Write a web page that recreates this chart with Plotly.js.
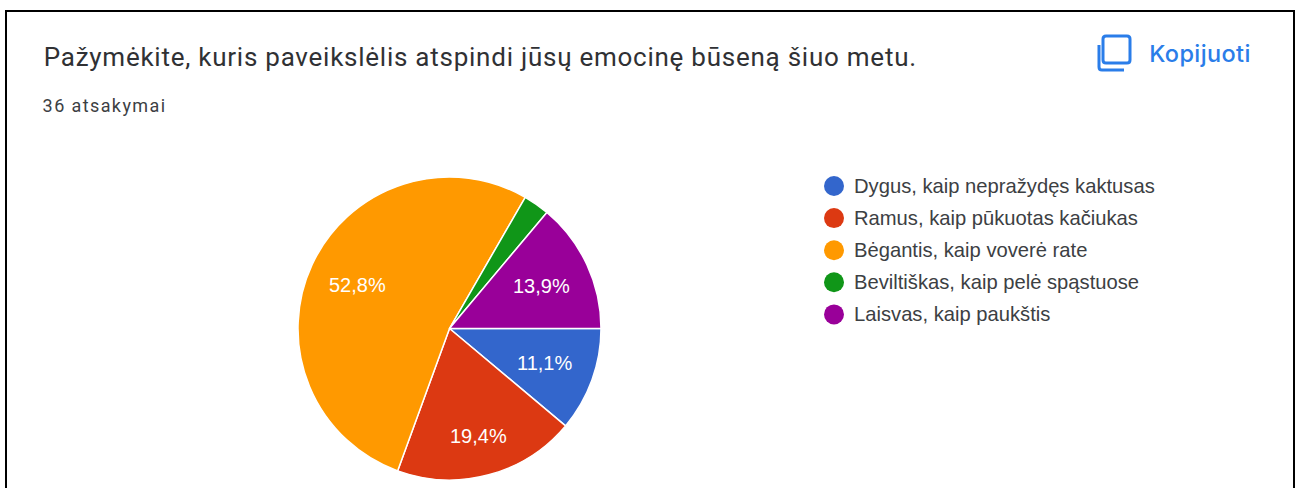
<!DOCTYPE html>
<html><head><meta charset="utf-8">
<script src="https://cdn.plot.ly/plotly-3.0.1.min.js"></script>
<style>html,body{margin:0;padding:0;background:#fff}#c{width:1300px;height:488px}
.annotation[data-index="0"] text{letter-spacing:.75px}
.annotation[data-index="1"] text{letter-spacing:1.4px}
.annotation[data-index="2"] text{letter-spacing:.4px}
</style></head>
<body><div id="c"></div>
<script>
const categories = ["Dygus, kaip nepražydęs kaktusas","Ramus, kaip pūkuotas kačiukas","Bėgantis, kaip voverė rate","Beviltiškas, kaip pelė spąstuose","Laisvas, kaip paukštis"];
const answerCounts = [4,7,19,1,5];
const sliceLabels = ["11,1%","19,4%","52,8%","","13,9%"];
const sliceColors = ["#3366cc","#dc3912","#ff9900","#109618","#990099"];
const chartTitle = "Pažymėkite, kuris paveikslėlis atspindi jūsų emocinę būseną šiuo metu.";
const responseNote = "36 atsakymai";
const copyLabel = "Kopijuoti";

const W=1300,H=488;
const px=x=>x/W, py=y=>1-y/H;
// left positions allow for the CSS letter-spacing, which Plotly does not measure
const annotations=[
 {text:chartTitle,x:px(68.5),y:py(56.5),xanchor:'left',yanchor:'middle',font:{family:'Roboto',size:26,color:'#303134'}},
 {text:responseNote,x:px(50),y:py(105),xanchor:'left',yanchor:'middle',font:{family:'Roboto',size:18,color:'#3c4043'}},
 {text:copyLabel,x:px(1150),y:py(54),xanchor:'left',yanchor:'middle',font:{family:'Inter',size:23.5,color:'#2a7de9',weight:500}}
];
const shapes=[
 {type:'rect',xref:'paper',yref:'paper',x0:px(6),x1:px(1294),y0:py(11),y1:py(520),line:{color:'#000',width:2},fillcolor:'rgba(0,0,0,0)'},
 {type:'path',xref:'x',yref:'y',path:'M 1106 36 H 1127 Q 1130 36 1130 39 V 60 Q 1130 63 1127 63 H 1106 Q 1103 63 1103 60 V 39 Q 1103 36 1106 36 Z',line:{color:'#2a7de9',width:3},fillcolor:'rgba(0,0,0,0)'},
 {type:'path',xref:'x',yref:'y',path:'M 1099 45 V 67 Q 1099 70 1102 70 H 1124',line:{color:'#2a7de9',width:3},fillcolor:'rgba(0,0,0,0)'}
];
categories.forEach((c,i)=>{
  const yc=186+i*32.1;
  shapes.push({type:'circle',xref:'x',yref:'y',x0:824,x1:844,y0:yc-10,y1:yc+10,fillcolor:sliceColors[i],line:{width:0}});
  annotations.push({text:c,x:px(852.5),y:py(yc),xanchor:'left',yanchor:'middle',font:{family:'Liberation Sans',size:20.2,color:'#3c4043'}});
});
// slice labels: placed on each slice's mid-angle, computed from the values
const labelRadius=[101.5,111,102,0,101];
const total=answerCounts.reduce((a,b)=>a+b,0);
let acc=0;
answerCounts.forEach((v,i)=>{
  const mid=(acc+v/2)/total*2*Math.PI; acc+=v;
  if(!sliceLabels[i]) return;
  annotations.push({text:sliceLabels[i],x:px(449.5+labelRadius[i]*Math.cos(mid)),y:py(328.5+labelRadius[i]*Math.sin(mid)),
    xanchor:'center',yanchor:'middle',font:{family:'Liberation Sans',size:20,color:'#fff'}});
});
annotations.forEach(a=>{a.xref='paper';a.yref='paper';a.showarrow=false;a.borderpad=0;});
const pie={type:'pie',labels:categories,values:answerCounts,sort:false,direction:'clockwise',rotation:90,
 marker:{colors:sliceColors,line:{color:'#fff',width:1.5}},
 textinfo:'none',hoverinfo:'label+percent',
 domain:{x:[px(298),px(601)],y:[py(480),py(177)]},showlegend:false};
Plotly.newPlot('c',[pie],{width:W,height:H,margin:{l:0,r:0,t:0,b:0,pad:0},paper_bgcolor:'#fff',plot_bgcolor:'#fff',showlegend:false,
 xaxis:{visible:false,range:[0,W],fixedrange:true,domain:[0,1]},yaxis:{visible:false,range:[H,0],fixedrange:true,domain:[0,1]},
 annotations,shapes},{displayModeBar:false,staticPlot:true});
</script></body></html>
